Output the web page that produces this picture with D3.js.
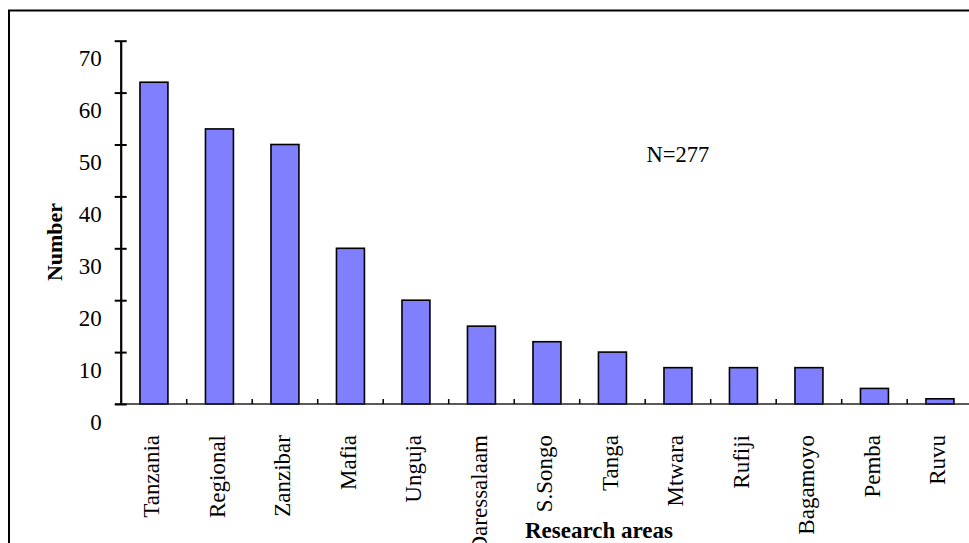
<!DOCTYPE html>
<html><head><meta charset="utf-8">
<script src="https://cdn.jsdelivr.net/npm/d3@7"></script>
<style>html,body{margin:0;padding:0;background:#fff;overflow:hidden}</style>
</head><body>
<svg id="c" width="969" height="543"></svg>
<script>
const categories = ["Tanzania","Regional","Zanzibar","Mafia","Unguja","Daressalaam","S.Songo","Tanga","Mtwara","Rufiji","Bagamoyo","Pemba","Ruvu"];
const values = [62,53,50,30,20,15,12,10,7,7,7,3,1];
const yTicks = [0,10,20,30,40,50,60,70];
const annotation = "N=277";
const yTitle = "Number";
const xTitle = "Research areas";

const svg = d3.select("#c");
const font = "'Liberation Serif','Times New Roman',serif";

// frame
svg.append("path").attr("d","M9,543 V10.5 H969").attr("fill","none").attr("stroke","#000").attr("stroke-width",2);

const y = d3.scaleLinear().domain([0,70]).range([404,40.7]);
const x = d3.scaleBand().domain(categories).range([121.2,972.7]).paddingInner(0.573).paddingOuter(0.2865);

// bars
svg.append("g").selectAll("rect").data(values).join("rect")
  .attr("x",(d,i)=>x(categories[i]))
  .attr("y",d=>y(d))
  .attr("width",x.bandwidth())
  .attr("height",d=>y(0)-y(d))
  .attr("fill","#8080FF").attr("stroke","#000").attr("stroke-width",1.6);

// x axis line
svg.append("line").attr("x1",115).attr("x2",969).attr("y1",y(0)).attr("y2",y(0))
  .attr("stroke","#222").attr("stroke-width",1.6);
// x ticks between categories (pointing up)
const gap = (x.step() - x.bandwidth())/2;
svg.append("g").selectAll("line").data(categories.slice(1)).join("line")
  .attr("x1",d=>x(d)-gap).attr("x2",d=>x(d)-gap)
  .attr("y1",y(0)).attr("y2",y(0)-5)
  .attr("stroke","#000").attr("stroke-width",1.5);

// y axis
const yAxis = d3.axisLeft(y).tickValues(yTicks).tickSizeInner(0).tickSizeOuter(0).tickFormat(d3.format("d"));
const ga = svg.append("g").attr("transform","translate(120.7,0)").call(yAxis);
ga.select(".domain").attr("stroke","#000").attr("stroke-width",2.2);
ga.selectAll(".tick line").attr("x1",-6).attr("x2",6).attr("stroke","#000").attr("stroke-width",2);
ga.selectAll(".tick text").attr("x",-19).attr("dy","1.1em").attr("font-family",font).attr("font-size",23).attr("fill","#000");

// x labels
svg.append("g").selectAll("text").data(categories).join("text")
  .attr("transform",d=>`translate(${x(d)+x.bandwidth()/2-3},435) rotate(-90)`)
  .attr("text-anchor","end").attr("dy","0.35em")
  .attr("font-family",font).attr("font-size",23).attr("fill","#000")
  .text(d=>d);

// titles
svg.append("text").attr("transform","translate(62,242) rotate(-90)")
  .attr("text-anchor","middle").attr("font-family",font).attr("font-size",22).attr("font-weight","bold").text(yTitle);
svg.append("text").attr("x",599).attr("y",538).attr("text-anchor","middle")
  .attr("font-family",font).attr("font-size",23).attr("font-weight","bold").text(xTitle);
svg.append("text").attr("x",646.5).attr("y",161.5)
  .attr("font-family",font).attr("font-size",22.5).text(annotation);
</script>
</body></html>
